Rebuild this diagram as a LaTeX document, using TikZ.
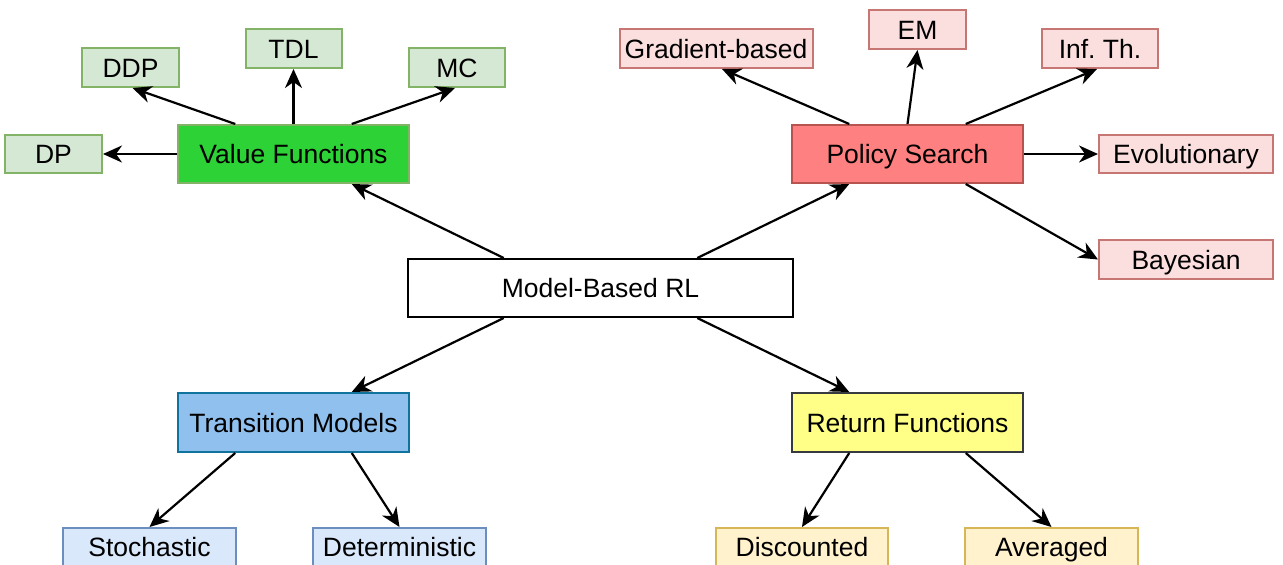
\documentclass[tikz,border=0pt]{standalone}
\usepackage{fontspec}
\setmainfont{Liberation Sans}
\usetikzlibrary{arrows.meta,calc}

\definecolor{vfFill}{HTML}{2DD236}
\definecolor{greenLine}{HTML}{82B366}
\definecolor{greenLight}{HTML}{D5E8D4}
\definecolor{psFill}{HTML}{FF8080}
\definecolor{redLine}{HTML}{B85450}
\definecolor{redLight}{HTML}{FADFDE}
\definecolor{tmFill}{HTML}{90C0EE}
\definecolor{tmLine}{HTML}{10739E}
\definecolor{blueLight}{HTML}{DAE8FC}
\definecolor{blueLine}{HTML}{6C8EBF}
\definecolor{rfFill}{HTML}{FFFF88}
\definecolor{rfLine}{HTML}{36393D}
\definecolor{yellowLight}{HTML}{FFF2CC}
\definecolor{yellowLine}{HTML}{D6B656}

\begin{document}
\begin{tikzpicture}[x=1pt,y=-1pt,
  box/.style={draw, line width=2pt, inner sep=0pt, rectangle,
    font=\fontsize{26.5}{30}\selectfont, text height=19pt, text depth=0pt},
  vfbox/.style={box, fill=vfFill, draw=greenLine},
  gbox/.style={box, fill=greenLight, draw=greenLine},
  psbox/.style={box, fill=psFill, draw=redLine},
  rbox/.style={box, fill=redLight, draw=redLine!80},
  tmbox/.style={box, fill=tmFill, draw=tmLine},
  bbox/.style={box, fill=blueLight, draw=blueLine},
  rfbox/.style={box, fill=rfFill, draw=rfLine},
  ybox/.style={box, fill=yellowLight, draw=yellowLine},
  rootbox/.style={box, fill=white, draw=black},
  arr/.style={line width=2.2pt, -{Stealth[length=19pt,width=17pt,inset=6pt]}}
]
\useasboundingbox (0,0) rectangle (1283,565);

% root
\node[rootbox, minimum width=385pt, minimum height=58pt] (mb) at (600.5,288) {Model-Based RL};

% value functions branch
\node[vfbox, minimum width=231pt, minimum height=58pt] (vf) at (293.5,154) {Value Functions};
\node[gbox, minimum width=97pt, minimum height=38pt] (dp) at (53.5,154) {DP};
\node[gbox, minimum width=97pt, minimum height=39pt] (ddp) at (130.5,67.5) {DDP};
\node[gbox, minimum width=96pt, minimum height=39pt] (tdl) at (293.5,48.5) {TDL};
\node[gbox, minimum width=96pt, minimum height=39pt] (mc) at (457,67.5) {MC};

% policy search branch
\node[psbox, minimum width=231pt, minimum height=58pt] (ps) at (907.5,154) {Policy Search};
\node[rbox, minimum width=193pt, minimum height=39pt] (grad) at (716,48.5) {Gradient-based};
\node[rbox, minimum width=97pt, minimum height=39pt] (em) at (917.5,29.5) {EM};
\node[rbox, minimum width=116pt, minimum height=39pt] (inf) at (1100,48.5) {Inf.\ Th.};
\node[rbox, minimum width=174pt, minimum height=38pt] (evo) at (1186,154) {Evolutionary};
\node[rbox, minimum width=174pt, minimum height=39pt] (bay) at (1186,259.5) {Bayesian};

% transition models branch
\node[tmbox, minimum width=231pt, minimum height=59pt] (tm) at (293.5,422.5) {Transition Models};
\node[bbox, minimum width=173pt, minimum height=38pt] (sto) at (149.5,547) {Stochastic};
\node[bbox, minimum width=173pt, minimum height=38pt] (det) at (399.5,547) {Deterministic};

% return functions branch
\node[rfbox, minimum width=231pt, minimum height=59pt] (rf) at (907.5,422.5) {Return Functions};
\node[ybox, minimum width=172pt, minimum height=38pt] (dis) at (802,547) {Discounted};
\node[ybox, minimum width=173pt, minimum height=38pt] (avg) at (1051.5,547) {Averaged};

% root connectors
\draw[arr] ($(mb.north west)!0.25!(mb.north east)$) -- ($(vf.south west)!0.75!(vf.south east)$);
\draw[arr] ($(mb.north west)!0.75!(mb.north east)$) -- ($(ps.south west)!0.25!(ps.south east)$);
\draw[arr] ($(mb.south west)!0.25!(mb.south east)$) -- ($(tm.north west)!0.75!(tm.north east)$);
\draw[arr] ($(mb.south west)!0.75!(mb.south east)$) -- ($(rf.north west)!0.25!(rf.north east)$);

% value function connectors
\draw[arr] (vf.west) -- (dp.east);
\draw[arr] ($(vf.north west)!0.25!(vf.north east)$) -- ($(ddp.south)+(2,0)$);
\draw[arr] (vf.north) -- (tdl.south);
\draw[arr] ($(vf.north west)!0.75!(vf.north east)$) -- ($(mc.south)+(-2,0)$);

% policy search connectors
\draw[arr] ($(ps.north west)!0.25!(ps.north east)$) -- ($(grad.south)+(6,0)$);
\draw[arr] (ps.north) -- (em.south);
\draw[arr] ($(ps.north west)!0.75!(ps.north east)$) -- ($(inf.south)+(-3,0)$);
\draw[arr] (ps.east) -- (evo.west);
\draw[arr] ($(ps.south west)!0.75!(ps.south east)$) -- (bay.west);

% transition model connectors
\draw[arr] ($(tm.south west)!0.25!(tm.south east)$) -- (sto.north);
\draw[arr] ($(tm.south west)!0.75!(tm.south east)$) -- (det.north);

% return function connectors
\draw[arr] ($(rf.south west)!0.25!(rf.south east)$) -- (dis.north);
\draw[arr] ($(rf.south west)!0.75!(rf.south east)$) -- (avg.north);
\end{tikzpicture}
\end{document}
